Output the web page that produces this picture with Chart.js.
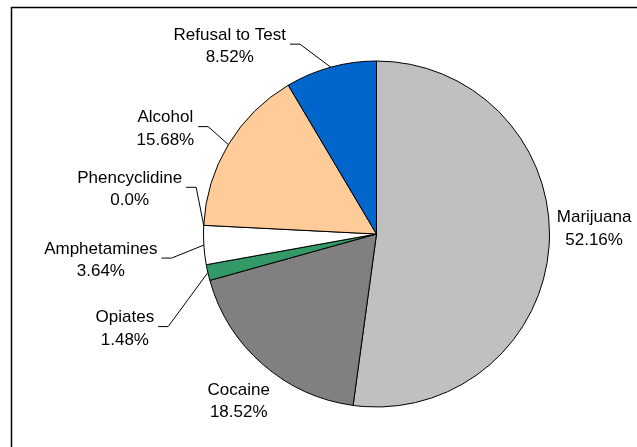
<!DOCTYPE html>
<html>
<head>
<meta charset="utf-8">
<script src="https://cdn.jsdelivr.net/npm/chart.js@4.4.1/dist/chart.umd.min.js"></script>
<style>
  html, body { margin: 0; padding: 0; background: #fff; }
  #wrap { position: relative; width: 637px; height: 447px; }
  canvas { display: block; }
</style>
</head>
<body>
<div id="wrap"><canvas id="c" width="637" height="447"></canvas></div>
<script>
// ---- data ----
const categories = ["Marijuana", "Cocaine", "Opiates", "Amphetamines", "Phencyclidine", "Alcohol", "Refusal to Test"];
const percentages = [52.16, 18.52, 1.48, 3.64, 0.0, 15.68, 8.52];
const valueLabels = ["52.16%", "18.52%", "1.48%", "3.64%", "0.0%", "15.68%", "8.52%"];
const sliceColors = ["#C0C0C0", "#808080", "#339966", "#FFFFFF", "#FFFFFF", "#FFCC99", "#0066CC"];

// ---- label layout (offset of label centre from slice mid-point on the rim) ----
const labelOffsets = [
  { dx: 45, dy: -17, leader: false },
  { dx: -24, dy: 37, leader: false },
  { dx: -83, dy: 56, leader: true },
  { dx: -103, dy: 15, leader: true },
  { dx: -74, dy: -36, leader: true },
  { dx: -63, dy: -16, leader: true },
  { dx: -101, dy: -21, leader: true }
];

const FONT = '17px "Liberation Sans", Arial, sans-serif';
const LINE_GAP = 22.5;

const frame = {
  id: 'frame',
  beforeDraw(chart) {
    const ctx = chart.ctx;
    ctx.save();
    ctx.strokeStyle = '#000';
    ctx.lineWidth = 1.5;
    ctx.beginPath();
    ctx.moveTo(11.5, chart.height + 2);
    ctx.lineTo(11.5, 7.5);
    ctx.lineTo(chart.width + 2, 7.5);
    ctx.stroke();
    ctx.restore();
  }
};

const sliceLabels = {
  id: 'sliceLabels',
  afterDatasetsDraw(chart) {
    const ctx = chart.ctx;
    const meta = chart.getDatasetMeta(0);
    ctx.save();
    ctx.font = FONT;
    ctx.fillStyle = '#000';
    ctx.textAlign = 'center';
    ctx.textBaseline = 'middle';
    meta.data.forEach((arc, i) => {
      const p = arc.getProps(['x', 'y', 'startAngle', 'endAngle', 'outerRadius'], true);
      const mid = (p.startAngle + p.endAngle) / 2;
      const ax = p.x + Math.cos(mid) * p.outerRadius;
      const ay = p.y + Math.sin(mid) * p.outerRadius;
      const off = labelOffsets[i];
      const cx = ax + off.dx;
      const cy = ay + off.dy;
      const l1 = categories[i];
      const l2 = valueLabels[i];
      ctx.fillText(l1, cx, cy - LINE_GAP / 2);
      ctx.fillText(l2, cx, cy + LINE_GAP / 2);
      if (off.leader) {
        const w = Math.max(ctx.measureText(l1).width, ctx.measureText(l2).width);
        const sx = cx + w / 2 + 4;
        const ly = cy - 2;
        ctx.save();
        ctx.strokeStyle = '#000';
        ctx.lineWidth = 1;
        ctx.beginPath();
        ctx.moveTo(sx, ly);
        ctx.lineTo(sx + 10, ly);
        ctx.lineTo(ax, ay);
        ctx.stroke();
        ctx.restore();
      }
    });
    ctx.restore();
  }
};

new Chart(document.getElementById('c'), {
  type: 'pie',
  data: {
    labels: categories,
    datasets: [{
      data: percentages,
      backgroundColor: sliceColors,
      borderColor: '#000',
      borderWidth: 1
    }]
  },
  options: {
    responsive: false,
    animation: false,
    radius: 173,
    layout: { padding: { left: 203.5, right: 87.5, top: 61, bottom: 40 } },
    plugins: {
      legend: { display: false },
      tooltip: { enabled: false }
    }
  },
  plugins: [frame, sliceLabels]
});
</script>
</body>
</html>
